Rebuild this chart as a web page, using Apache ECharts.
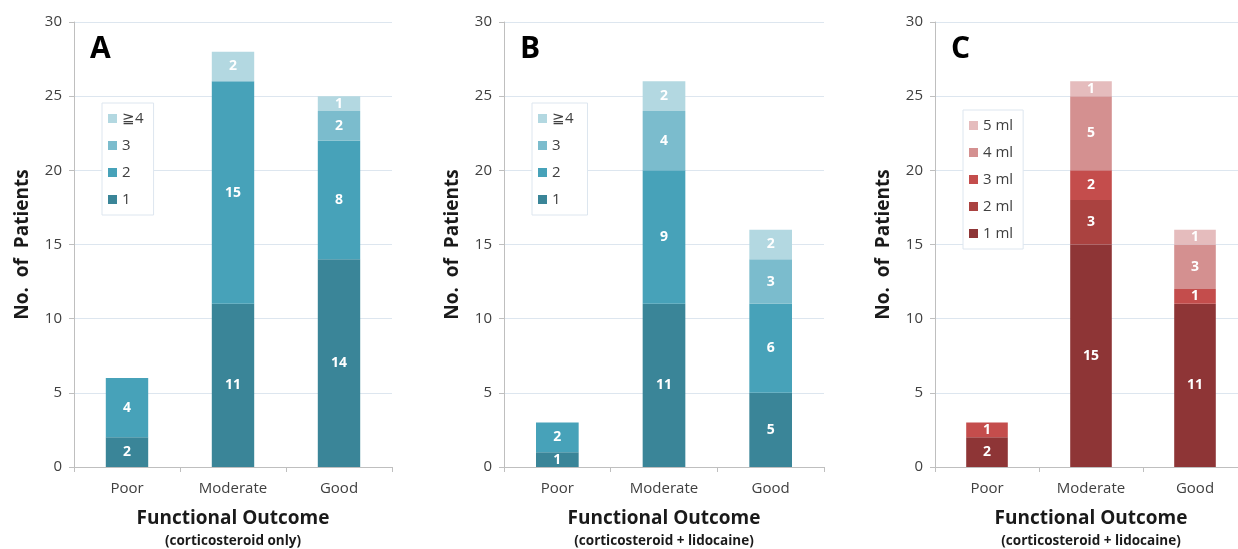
<!DOCTYPE html>
<html><head><meta charset="utf-8">
<script src="https://cdn.jsdelivr.net/npm/echarts@6/dist/echarts.min.js"></script>
<style>html,body{margin:0;padding:0;background:#fff}#c{width:1238px;height:549px}</style>
</head><body><div id="c"></div>
<script>
const categories = ['Poor', 'Moderate', 'Good'];
const yTicks = [0, 5, 10, 15, 20, 25, 30];
// Panel A: corticosteroid only (number of injections)
const A_names = ['1', '2', '3', '≧4'];
const A_1 = [2, 11, 14];
const A_2 = [4, 15, 8];
const A_3 = [0, 0, 2];
const A_4 = [0, 2, 1];
// Panel B: corticosteroid + lidocaine (number of injections)
const B_names = ['1', '2', '3', '≧4'];
const B_1 = [1, 11, 5];
const B_2 = [2, 9, 6];
const B_3 = [0, 4, 3];
const B_4 = [0, 2, 2];
// Panel C: corticosteroid + lidocaine (lidocaine volume)
const C_names = ['1 ml', '2 ml', '3 ml', '4 ml', '5 ml'];
const C_1 = [2, 15, 11];
const C_2 = [0, 3, 0];
const C_3 = [1, 2, 1];
const C_4 = [0, 5, 3];
const C_5 = [0, 1, 1];
const panelLetters = ['A', 'B', 'C'];
const subtitles = ['(corticosteroid only)', '(corticosteroid + lidocaine)', '(corticosteroid + lidocaine)'];

const teal = ['#3a8598', '#47a2b9', '#7bbccd', '#b3d8e1'];
const reds = ['#8e3536', '#aa4240', '#c44d4c', '#d49090', '#e5bcbd'];
const FONT = '"Open Sans", "Noto Sans", sans-serif';

const grids = [
  {left: 74, width: 318, top: 22, height: 445, outerBoundsMode: 'none', containLabel: false},
  {left: 504, width: 320, top: 22, height: 445, outerBoundsMode: 'none', containLabel: false},
  {left: 935, width: 312, top: 22, height: 445, outerBoundsMode: 'none', containLabel: false}
];
const panels = [
  {names: A_names, data: [A_1, A_2, A_3, A_4], colors: teal},
  {names: B_names, data: [B_1, B_2, B_3, B_4], colors: teal},
  {names: C_names, data: [C_1, C_2, C_3, C_4, C_5], colors: reds}
];

const xAxis = [], yAxis = [], series = [], legend = [], graphic = [];
panels.forEach((p, i) => {
  xAxis.push({
    gridIndex: i, type: 'category', data: categories,
    axisLine: {lineStyle: {color: '#bfbfbf'}},
    axisTick: {show: true, alignWithLabel: false, length: 5, lineStyle: {color: '#bfbfbf'}},
    axisLabel: {color: '#404040', fontSize: 15, fontFamily: FONT, margin: 14},
    name: 'Functional Outcome\n{s|' + subtitles[i] + '}',
    nameLocation: 'middle', nameGap: 40,
    nameTextStyle: {color: '#1a1a1a', fontSize: 19, fontWeight: 'bold', fontFamily: FONT, lineHeight: 24,
      rich: {s: {fontSize: 13.5, fontWeight: 'bold', fontFamily: FONT, color: '#1a1a1a', lineHeight: 20}}}
  });
  yAxis.push({
    gridIndex: i, type: 'value', min: 0, max: 30, interval: 5,
    axisLine: {show: true, lineStyle: {color: '#bfbfbf'}},
    axisTick: {show: true, length: 5, lineStyle: {color: '#bfbfbf'}},
    axisLabel: {color: '#404040', fontSize: 15, fontFamily: FONT, margin: 12,
      formatter: v => yTicks.includes(v) ? String(v) : ''},
    splitLine: {lineStyle: {color: '#dde6ef'}},
    name: 'No.  of  Patients', nameLocation: 'middle', nameGap: 42,
    nameTextStyle: {color: '#1a1a1a', fontSize: 19, fontWeight: 'bold', fontFamily: FONT}
  });
  p.names.forEach((n, k) => {
    series.push({
      type: 'bar', name: n + (i === 1 ? ' ' : ''), xAxisIndex: i, yAxisIndex: i, stack: 'p' + i,
      data: p.data[k], barWidth: '40%',
      itemStyle: {color: p.colors[k]},
      label: {show: true, position: 'inside', color: '#fff', fontWeight: 'bold', fontSize: 14, fontFamily: FONT,
        formatter: d => d.value > 0 ? String(d.value) : ''},
      emphasis: {disabled: true}
    });
  });
  const lg = grids[i];
  legend.push({
    orient: 'vertical', left: lg.left + 28, top: i === 2 ? 110 : 103,
    data: p.names.slice().reverse().map(n => n + (i === 1 ? ' ' : '')),
    icon: 'rect', itemWidth: 9, itemHeight: 9, itemGap: 12,
    textStyle: {color: '#404040', fontSize: 15, fontFamily: FONT},
    backgroundColor: '#fff', borderColor: '#dde6ef', borderWidth: 1,
    padding: [8, 10, 8, 6], selectedMode: false
  });
  graphic.push({
    type: 'text', left: lg.left + 16, top: 34,
    style: {text: panelLetters[i], font: 'bold 30px ' + FONT, fill: '#000'}
  });
});

const chart = echarts.init(document.getElementById('c'));
chart.setOption({
  animation: false,
  grid: grids, xAxis, yAxis, series, legend, graphic
});
</script></body></html>
